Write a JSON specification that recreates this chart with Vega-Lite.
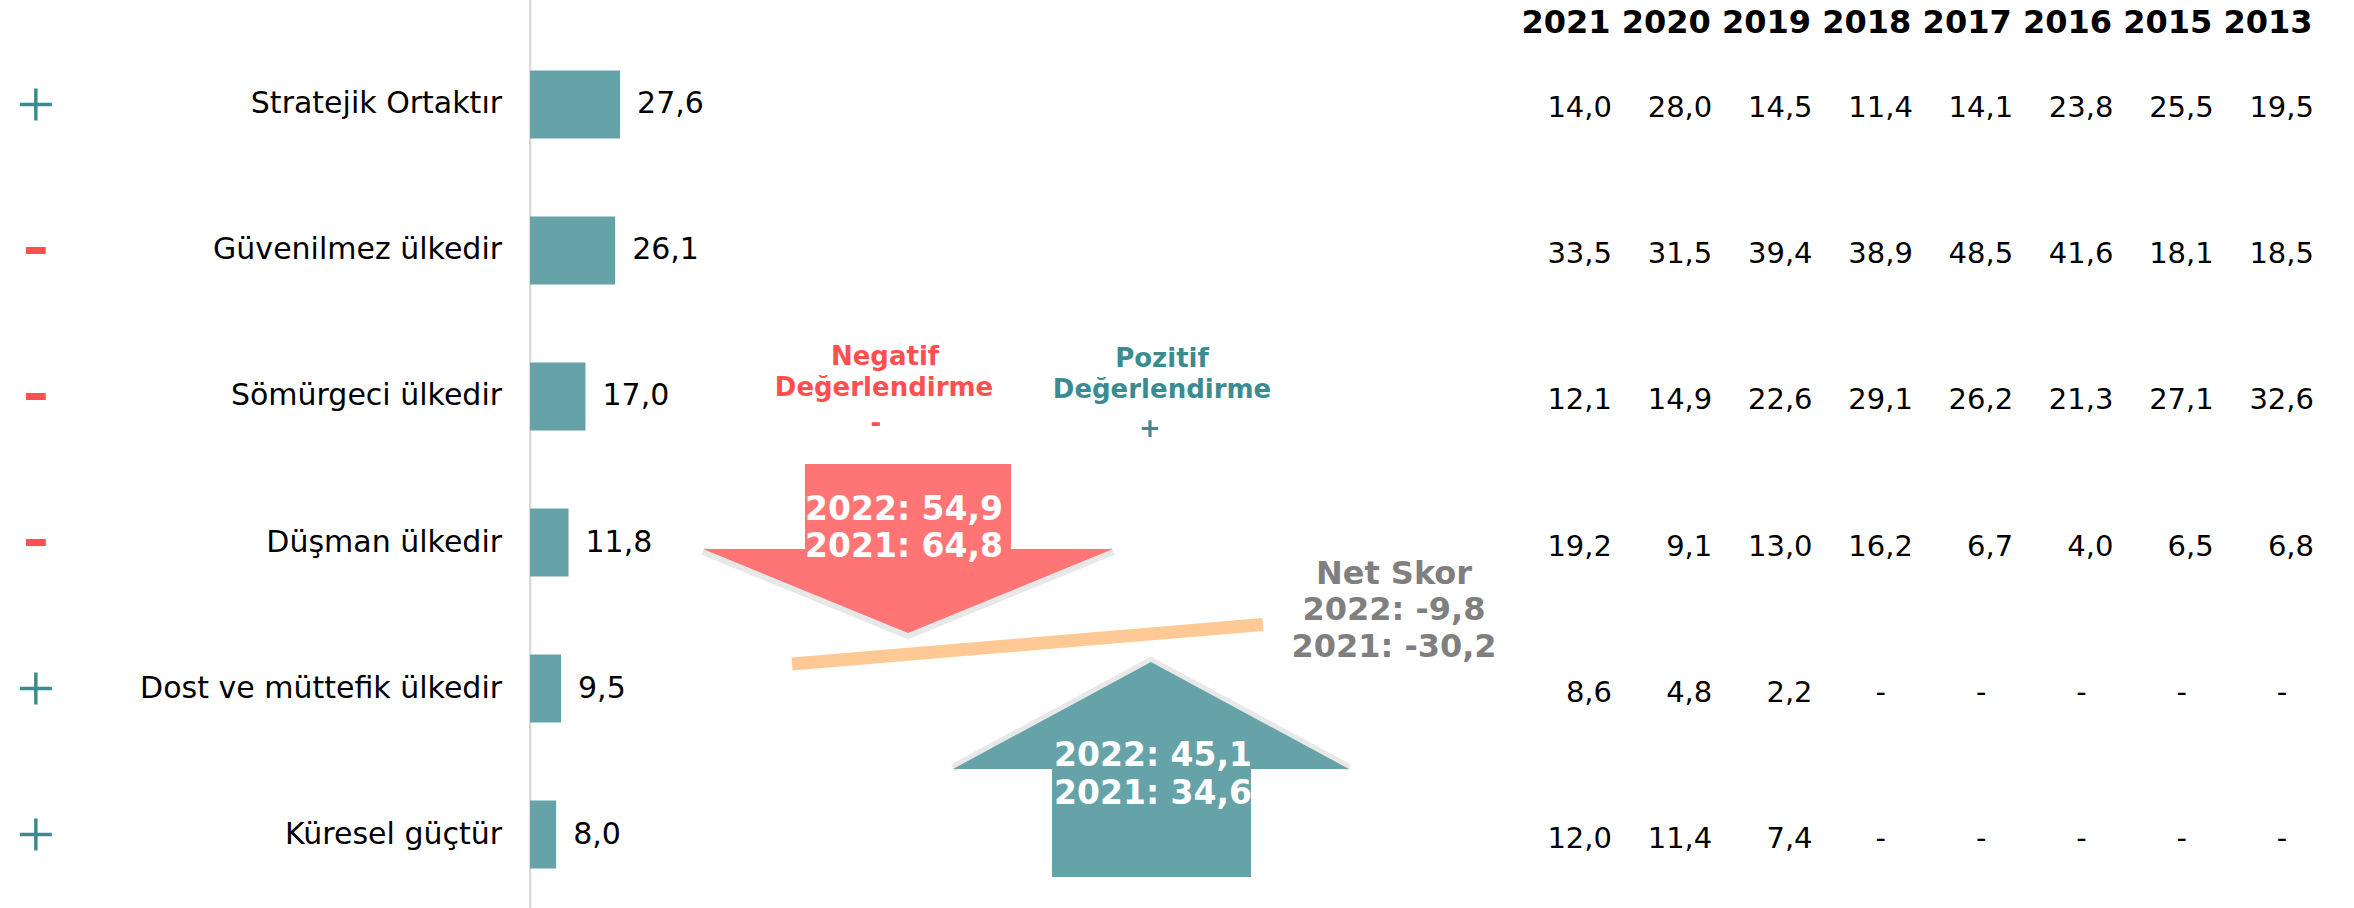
{
  "$schema": "https://vega.github.io/schema/vega-lite/v6.json",
  "width": 2354,
  "height": 908,
  "autosize": {"type": "none"},
  "padding": 0,
  "background": "white",
  "config": {
    "view": {"stroke": null},
    "font": "DejaVu Sans",
    "locale": {"number": {"decimal": ",", "thousands": ".", "grouping": [3], "currency": ["", " ₺"]}}
  },
  "datasets": {
    "bars": [
      {"category": "Stratejik Ortaktır", "value": 27.6, "sign": "+"},
      {"category": "Güvenilmez ülkedir", "value": 26.1, "sign": "-"},
      {"category": "Sömürgeci ülkedir", "value": 17.0, "sign": "-"},
      {"category": "Düşman ülkedir", "value": 11.8, "sign": "-"},
      {"category": "Dost ve müttefik ülkedir", "value": 9.5, "sign": "+"},
      {"category": "Küresel güçtür", "value": 8.0, "sign": "+"}
    ],
    "table": [
      {"category": "Stratejik Ortaktır", "year": "2021", "value": 14.0},
      {"category": "Stratejik Ortaktır", "year": "2020", "value": 28.0},
      {"category": "Stratejik Ortaktır", "year": "2019", "value": 14.5},
      {"category": "Stratejik Ortaktır", "year": "2018", "value": 11.4},
      {"category": "Stratejik Ortaktır", "year": "2017", "value": 14.1},
      {"category": "Stratejik Ortaktır", "year": "2016", "value": 23.8},
      {"category": "Stratejik Ortaktır", "year": "2015", "value": 25.5},
      {"category": "Stratejik Ortaktır", "year": "2013", "value": 19.5},
      {"category": "Güvenilmez ülkedir", "year": "2021", "value": 33.5},
      {"category": "Güvenilmez ülkedir", "year": "2020", "value": 31.5},
      {"category": "Güvenilmez ülkedir", "year": "2019", "value": 39.4},
      {"category": "Güvenilmez ülkedir", "year": "2018", "value": 38.9},
      {"category": "Güvenilmez ülkedir", "year": "2017", "value": 48.5},
      {"category": "Güvenilmez ülkedir", "year": "2016", "value": 41.6},
      {"category": "Güvenilmez ülkedir", "year": "2015", "value": 18.1},
      {"category": "Güvenilmez ülkedir", "year": "2013", "value": 18.5},
      {"category": "Sömürgeci ülkedir", "year": "2021", "value": 12.1},
      {"category": "Sömürgeci ülkedir", "year": "2020", "value": 14.9},
      {"category": "Sömürgeci ülkedir", "year": "2019", "value": 22.6},
      {"category": "Sömürgeci ülkedir", "year": "2018", "value": 29.1},
      {"category": "Sömürgeci ülkedir", "year": "2017", "value": 26.2},
      {"category": "Sömürgeci ülkedir", "year": "2016", "value": 21.3},
      {"category": "Sömürgeci ülkedir", "year": "2015", "value": 27.1},
      {"category": "Sömürgeci ülkedir", "year": "2013", "value": 32.6},
      {"category": "Düşman ülkedir", "year": "2021", "value": 19.2},
      {"category": "Düşman ülkedir", "year": "2020", "value": 9.1},
      {"category": "Düşman ülkedir", "year": "2019", "value": 13.0},
      {"category": "Düşman ülkedir", "year": "2018", "value": 16.2},
      {"category": "Düşman ülkedir", "year": "2017", "value": 6.7},
      {"category": "Düşman ülkedir", "year": "2016", "value": 4.0},
      {"category": "Düşman ülkedir", "year": "2015", "value": 6.5},
      {"category": "Düşman ülkedir", "year": "2013", "value": 6.8},
      {"category": "Dost ve müttefik ülkedir", "year": "2021", "value": 8.6},
      {"category": "Dost ve müttefik ülkedir", "year": "2020", "value": 4.8},
      {"category": "Dost ve müttefik ülkedir", "year": "2019", "value": 2.2},
      {"category": "Dost ve müttefik ülkedir", "year": "2018", "value": null},
      {"category": "Dost ve müttefik ülkedir", "year": "2017", "value": null},
      {"category": "Dost ve müttefik ülkedir", "year": "2016", "value": null},
      {"category": "Dost ve müttefik ülkedir", "year": "2015", "value": null},
      {"category": "Dost ve müttefik ülkedir", "year": "2013", "value": null},
      {"category": "Küresel güçtür", "year": "2021", "value": 12.0},
      {"category": "Küresel güçtür", "year": "2020", "value": 11.4},
      {"category": "Küresel güçtür", "year": "2019", "value": 7.4},
      {"category": "Küresel güçtür", "year": "2018", "value": null},
      {"category": "Küresel güçtür", "year": "2017", "value": null},
      {"category": "Küresel güçtür", "year": "2016", "value": null},
      {"category": "Küresel güçtür", "year": "2015", "value": null},
      {"category": "Küresel güçtür", "year": "2013", "value": null}
    ],
    "diagram": [
      {"shape": "neg_body", "x": 80.5, "x2": 101.1, "y": 46.4, "y2": 55.1},
      {"shape": "neg_head", "x": 70.3, "y": 54.9, "y2": 54.9},
      {"shape": "neg_head", "x": 90.8, "y": 54.9, "y2": 63.3},
      {"shape": "neg_head", "x": 111.3, "y": 54.9, "y2": 54.9},
      {"shape": "pos_head", "x": 95.3, "y": 76.9, "y2": 76.9},
      {"shape": "pos_head", "x": 115.1, "y": 66.2, "y2": 76.9},
      {"shape": "pos_head", "x": 134.9, "y": 76.9, "y2": 76.9},
      {"shape": "pos_body", "x": 105.2, "x2": 125.1, "y": 76.8, "y2": 87.7},
      {"shape": "net_line", "x": 79.2, "y": 66.4},
      {"shape": "net_line", "x": 126.3, "y": 62.45}
    ],
    "notes": [
      {"text": "Negatif", "kind": "neg_title", "x": 88.5, "y": 36.5},
      {"text": "Değerlendirme", "kind": "neg_title", "x": 88.4, "y": 39.6},
      {"text": "-", "kind": "neg_title", "x": 87.6, "y": 43.2},
      {"text": "Pozitif", "kind": "pos_title", "x": 116.2, "y": 36.7},
      {"text": "Değerlendirme", "kind": "pos_title", "x": 116.2, "y": 39.8},
      {"text": "+", "kind": "pos_title", "x": 115.0, "y": 43.7},
      {"text": "2022: 54,9", "kind": "neg_value", "x": 90.4, "y": 52.0},
      {"text": "2021: 64,8", "kind": "neg_value", "x": 90.4, "y": 55.7},
      {"text": "2022: 45,1", "kind": "pos_value", "x": 115.3, "y": 76.6},
      {"text": "2021: 34,6", "kind": "pos_value", "x": 115.3, "y": 80.4},
      {"text": "Net Skor", "kind": "net", "x": 139.4, "y": 58.4},
      {"text": "2022: -9,8", "kind": "net", "x": 139.4, "y": 62.0},
      {"text": "2021: -30,2", "kind": "net", "x": 139.4, "y": 65.7}
    ]
  },
  "layer": [
    {
      "data": {"name": "bars"},
      "layer": [
        {
          "mark": {"type": "rule", "color": "#d9d9d9", "strokeWidth": 2},
          "encoding": {
            "x": {"datum": 0, "type": "quantitative", "scale": {"domain": [-162.6, 559.5], "nice": false, "zero": false}, "axis": null}
          }
        },
        {
          "mark": {"type": "bar", "color": "#66a3a9"},
          "encoding": {
            "y": {
              "field": "category", "type": "nominal", "sort": null,
              "scale": {"type": "band", "paddingInner": 0.534, "paddingOuter": 0.3765, "align": 0.641},
              "axis": null
            },
            "x": {"field": "value", "type": "quantitative", "axis": null}
          }
        },
        {
          "mark": {"type": "text", "align": "right", "baseline": "middle", "dx": -28, "fontSize": 30, "color": "#000000"},
          "encoding": {
            "y": {"field": "category", "type": "nominal", "sort": null, "axis": null},
            "x": {"datum": 0, "type": "quantitative", "axis": null},
            "text": {"field": "category"}
          }
        },
        {
          "mark": {"type": "text", "align": "left", "baseline": "middle", "dx": 17, "fontSize": 30, "color": "#000000"},
          "encoding": {
            "y": {"field": "category", "type": "nominal", "sort": null, "axis": null},
            "x": {"field": "value", "type": "quantitative", "axis": null},
            "text": {"field": "value", "type": "quantitative", "format": ".1f"}
          }
        },
        {
          "mark": {"type": "point", "filled": false, "size": 1024, "opacity": 1},
          "encoding": {
            "y": {"field": "category", "type": "nominal", "sort": null, "axis": null},
            "x": {"datum": -151.6, "type": "quantitative", "axis": null},
            "shape": {"field": "sign", "type": "nominal", "scale": {"domain": ["+", "-"], "range": ["M-1,0H1M0,-1V1", "M-0.62,0H0.62"]}, "legend": null},
            "color": {"field": "sign", "type": "nominal", "scale": {"domain": ["+", "-"], "range": ["#3b8b90", "#ff5050"]}, "legend": null},
            "strokeWidth": {"field": "sign", "type": "nominal", "scale": {"domain": ["+", "-"], "range": [3.5, 7]}, "legend": null}
          }
        }
      ]
    },
    {
      "data": {"name": "table"},
      "layer": [
        {
          "mark": {"type": "text", "align": "right", "baseline": "middle", "dx": 46, "dy": 4, "fontSize": 29, "color": "#000000"},
          "encoding": {
            "x": {
              "field": "year", "type": "ordinal", "sort": "descending",
              "scale": {"type": "point", "padding": 0, "range": [1566, 2268]},
              "axis": null
            },
            "y": {
              "field": "category", "type": "nominal", "sort": null,
              "scale": {"type": "band", "paddingInner": 0.534, "paddingOuter": 0.3765, "align": 0.641},
              "axis": null
            },
            "text": {"condition": {"test": "!isValid(datum.value)", "value": ""}, "field": "value", "type": "quantitative", "format": ".1f"}
          }
        },
        {
          "mark": {"type": "text", "align": "center", "baseline": "middle", "dx": 14, "dy": 4, "fontSize": 29, "color": "#000000"},
          "encoding": {
            "x": {"field": "year", "type": "ordinal", "sort": "descending", "axis": null},
            "y": {"field": "category", "type": "nominal", "sort": null, "axis": null},
            "text": {"condition": {"test": "isValid(datum.value)", "value": ""}, "value": "-"}
          }
        },
        {
          "mark": {"type": "text", "align": "center", "baseline": "alphabetic", "dy": -71, "fontSize": 32, "fontWeight": "bold", "color": "#000000"},
          "encoding": {
            "x": {"field": "year", "type": "ordinal", "sort": "descending", "axis": null},
            "y": {"field": "category", "type": "nominal", "sort": null, "axis": null},
            "text": {"condition": {"test": "datum.category !== 'Stratejik Ortaktır'", "value": ""}, "field": "year", "type": "ordinal"}
          }
        }
      ]
    },
    {
      "data": {"name": "diagram"},
      "layer": [
        {
          "transform": [{"filter": "datum.shape === 'neg_head'"}],
          "mark": {"type": "line", "color": "#7f7f7f", "strokeWidth": 8, "opacity": 0.18, "yOffset": 2, "strokeJoin": "round"},
          "encoding": {
            "x": {"field": "x", "type": "quantitative", "scale": {"domain": [0, 235.4], "nice": false, "zero": false}, "axis": null},
            "y": {"field": "y2", "type": "quantitative", "scale": {"domain": [0, 90.8], "nice": false, "zero": false, "reverse": true}, "axis": null}
          }
        },
        {
          "transform": [{"filter": "datum.shape === 'neg_head'"}],
          "mark": {"type": "area", "color": "#ff7575", "opacity": 1},
          "encoding": {
            "x": {"field": "x", "type": "quantitative", "axis": null},
            "y": {"field": "y", "type": "quantitative", "axis": null},
            "y2": {"field": "y2"}
          }
        },
        {
          "transform": [{"filter": "datum.shape === 'neg_body'"}],
          "mark": {"type": "rect", "color": "#ff7575"},
          "encoding": {
            "x": {"field": "x", "type": "quantitative", "axis": null},
            "x2": {"field": "x2"},
            "y": {"field": "y", "type": "quantitative", "axis": null},
            "y2": {"field": "y2"}
          }
        },
        {
          "transform": [{"filter": "datum.shape === 'net_line'"}],
          "mark": {"type": "line", "color": "#ffc995", "strokeWidth": 13, "strokeCap": "butt"},
          "encoding": {
            "x": {"field": "x", "type": "quantitative", "axis": null},
            "y": {"field": "y", "type": "quantitative", "axis": null}
          }
        },
        {
          "transform": [{"filter": "datum.shape === 'pos_head'"}],
          "mark": {"type": "line", "color": "#7f7f7f", "strokeWidth": 8, "opacity": 0.18, "yOffset": -1, "strokeJoin": "round"},
          "encoding": {
            "x": {"field": "x", "type": "quantitative", "axis": null},
            "y": {"field": "y", "type": "quantitative", "axis": null}
          }
        },
        {
          "transform": [{"filter": "datum.shape === 'pos_head'"}],
          "mark": {"type": "area", "color": "#66a3a9", "opacity": 1},
          "encoding": {
            "x": {"field": "x", "type": "quantitative", "axis": null},
            "y": {"field": "y", "type": "quantitative", "axis": null},
            "y2": {"field": "y2"}
          }
        },
        {
          "transform": [{"filter": "datum.shape === 'pos_body'"}],
          "mark": {"type": "rect", "color": "#66a3a9"},
          "encoding": {
            "x": {"field": "x", "type": "quantitative", "axis": null},
            "x2": {"field": "x2"},
            "y": {"field": "y", "type": "quantitative", "axis": null},
            "y2": {"field": "y2"}
          }
        },
        {
          "data": {"name": "notes"},
          "transform": [{"filter": {"field": "kind", "oneOf": ["neg_title", "pos_title"]}}],
          "mark": {"type": "text", "align": "center", "baseline": "alphabetic", "fontSize": 26, "fontWeight": "bold"},
          "encoding": {
            "x": {"field": "x", "type": "quantitative", "axis": null},
            "y": {"field": "y", "type": "quantitative", "axis": null},
            "text": {"field": "text"},
            "color": {"field": "kind", "type": "nominal", "scale": {"domain": ["neg_title", "pos_title"], "range": ["#ff4f4f", "#3a8c91"]}, "legend": null}
          }
        },
        {
          "data": {"name": "notes"},
          "transform": [{"filter": {"field": "kind", "oneOf": ["neg_value", "pos_value"]}}],
          "mark": {"type": "text", "align": "center", "baseline": "alphabetic", "fontSize": 33, "fontWeight": "bold", "color": "#ffffff"},
          "encoding": {
            "x": {"field": "x", "type": "quantitative", "axis": null},
            "y": {"field": "y", "type": "quantitative", "axis": null},
            "text": {"field": "text"}
          }
        },
        {
          "data": {"name": "notes"},
          "transform": [{"filter": {"field": "kind", "equal": "net"}}],
          "mark": {"type": "text", "align": "center", "baseline": "alphabetic", "fontSize": 32, "fontWeight": "bold", "color": "#7f7f7f"},
          "encoding": {
            "x": {"field": "x", "type": "quantitative", "axis": null},
            "y": {"field": "y", "type": "quantitative", "axis": null},
            "text": {"field": "text"}
          }
        }
      ]
    }
  ],
  "resolve": {"scale": {"x": "independent", "y": "independent", "color": "independent", "shape": "independent", "strokeWidth": "independent"}}
}
